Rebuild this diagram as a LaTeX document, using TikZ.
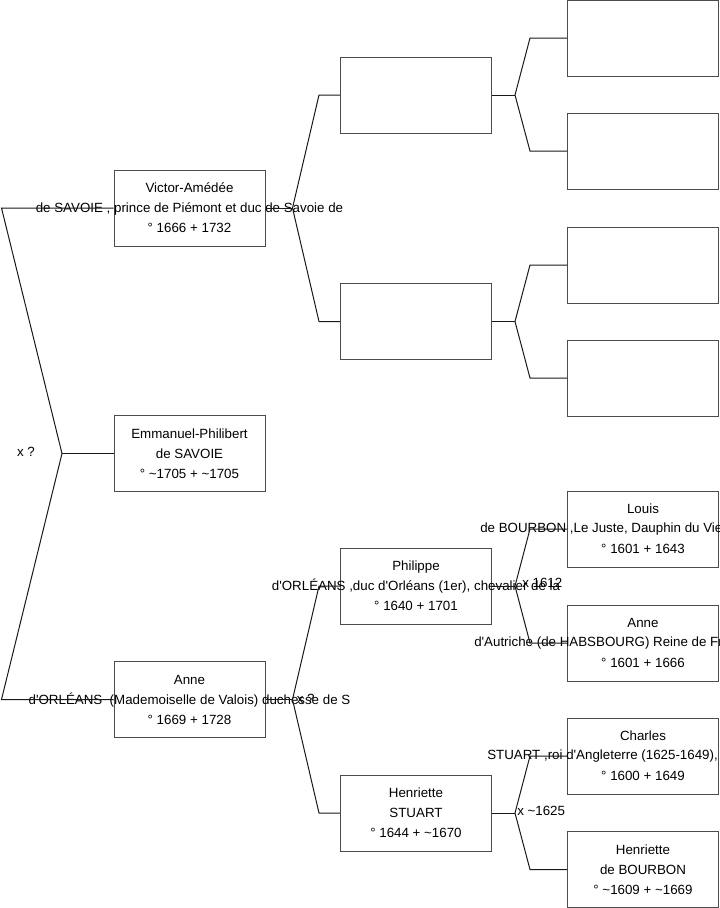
\documentclass[tikz,border=0pt]{standalone}
\usepackage{fontspec}
\setmainfont{Liberation Sans}[Ligatures=TeXOff]
\usetikzlibrary{calc,positioning}
\tikzset{>=latex}
\tikzset{
  person/.style={draw=black!70, line width=0.75pt, minimum width=113.25pt,
    minimum height=57pt, inner sep=0pt},
  ptext/.style={align=center, font=\fontsize{10}{15}\selectfont, inner sep=0pt},
  pline/.style={font=\fontsize{10}{15}\selectfont, inner sep=0pt, anchor=west},
  link/.style={line width=0.75pt, black!90},
  union/.style={font=\fontsize{10}{15}\selectfont, inner sep=0pt, anchor=west},
}

\begin{document}
\begin{tikzpicture}[x=0.75pt, y=-0.75pt]
  \useasboundingbox (0,0) rectangle (719,908);
  \clip (0,0) rectangle (719,908);
  % generation 1
  \node[person] (victor) at (189.5,208) {};
  \node[person] (emmanuel) at (189.5,453.5) {};
  \node[person] (anne) at (189.5,699.5) {};
  % generation 2
  \node[person] (gp1) at (416,95) {};
  \node[person] (gp2) at (416,321.5) {};
  \node[person] (philippe) at (416,586) {};
  \node[person] (henriette) at (416,813) {};
  % generation 3
  \foreach \n/\y in {g1/38, g2/151, g3/265, g4/378, louis/529, anned/643,
    charles/756, henb/869.5}
    \node[person] (\n) at (643,\y) {};
  % names
  \node[ptext] (victor-t) at (victor)
    {Victor-Amédée\\de SAVOIE , prince de Piémont et duc de Savoie de\\° 1666 + 1732};
  \node[ptext] (emmanuel-t) at (emmanuel)
    {Emmanuel-Philibert\\de SAVOIE\\° \textasciitilde1705 + \textasciitilde1705};
  \node[ptext] (anne-t) at (anne)
    {Anne\\d'ORLÉANS \ (Mademoiselle de Valois) duchesse de S\\° 1669 + 1728};
  \node[ptext] (philippe-t) at (philippe)
    {Philippe\\d'ORLÉANS ,duc d'Orléans (1er), chevalier de la\\° 1640 + 1701};
  \node[ptext] (henriette-t) at (henriette)
    {Henriette\\STUART\\° 1644 + \textasciitilde1670};
  \node[ptext] (louis-t) at (louis) {Louis\\\strut\\° 1601 + 1643};
  \node[pline] (louis-m) at (480,529) {de BOURBON ,Le Juste, Dauphin du Vie};
  \node[ptext] (anned-t) at (anned) {Anne\\\strut\\° 1601 + 1666};
  \node[pline] (anned-m) at (474,643) {d'Autriche (de HABSBOURG) Reine de Fr};
  \node[ptext] (charles-t) at (charles) {Charles\\\strut\\° 1600 + 1649};
  \node[pline] (charles-m) at (487,756) {STUART ,roi d'Angleterre (1625-1649),};
  \node[ptext] (henb-t) at (henb)
    {Henriette\\de BOURBON\\° \textasciitilde1609 + \textasciitilde1669};
  % links
  \coordinate (j0) at (62,453.5);
  \draw[link] (victor.west) -- ++(-112,0) -- (j0)
    -- ($(anne.west)+(-112,0)$) -- (anne.west);
  \draw[link] (j0) -- (emmanuel.west);
  \foreach \up/\ca/\cb/\dj/\dc in {victor/gp1/gp2/27/21, anne/philippe/henriette/27/21,
    gp1/g1/g2/23/37, gp2/g3/g4/23/37, philippe/louis/anned/23/37,
    henriette/charles/henb/23/37}
  {
    \draw[link] (\up.east) -- ++(\dj,0) coordinate (j-\up);
    \draw[link] (\ca.west) -- ++(-\dc,0) -- (j-\up)
      -- ($(\cb.west)+(-\dc,0)$) -- (\cb.west);
  }
  % unions
  \node[ptext] (u0) at (26,452) {x ?};
  \node[union] (u-anne) at ($(j-anne)+(4,-1)$) {x ?};
  \node[union] (u-philippe) at ($(j-philippe)+(7,-3)$) {x 1612};
  \node[union] (u-henriette) at ($(j-henriette)+(2,-2)$) {x \textasciitilde1625};
\end{tikzpicture}
\end{document}
